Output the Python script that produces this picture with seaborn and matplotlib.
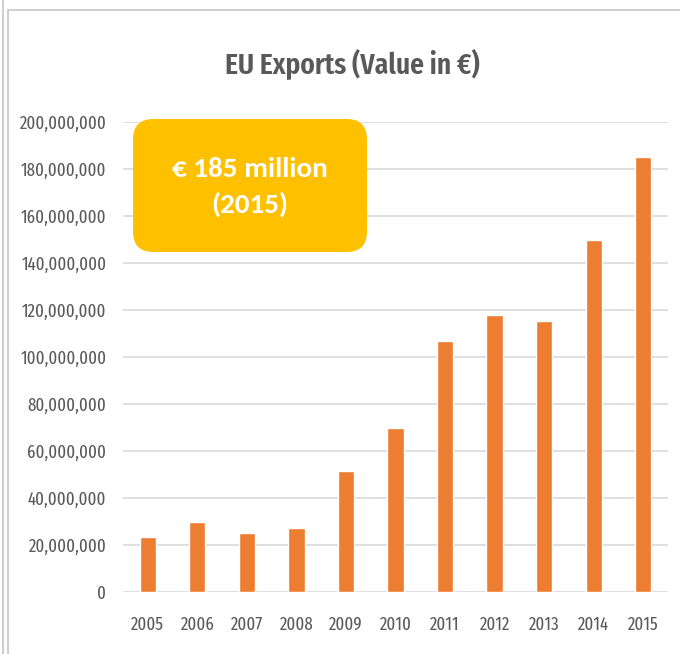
import matplotlib
matplotlib.use("Agg")
import matplotlib.pyplot as plt
from matplotlib.patches import FancyBboxPatch
from matplotlib.lines import Line2D
from matplotlib.ticker import FuncFormatter
import seaborn as sns
import pandas as pd

years = ["2005", "2006", "2007", "2008", "2009", "2010", "2011", "2012", "2013", "2014", "2015"]
exports = [23.5e6, 29.7e6, 24.9e6, 27.3e6, 51.3e6, 70.0e6, 106.7e6, 117.8e6, 115.4e6, 149.6e6, 185.0e6]
y_ticks = [0, 20e6, 40e6, 60e6, 80e6, 100e6, 120e6, 140e6, 160e6, 180e6, 200e6]
title = "EU Exports (Value in €)"
callout = "€ 185 million\n(2015)"

sns.set_theme(style="white")
COND = ['Fira Sans Extra Condensed', 'DejaVu Sans']
plt.rcParams['font.family'] = COND

df = pd.DataFrame({"year": years, "value": exports})

fig = plt.figure(figsize=(6.8, 6.54), dpi=100)
ax = fig.add_axes([123/680, 1-592/654, (668-123)/680, (592-122)/654])

sns.barplot(data=df, x="year", y="value", color="#ED7D31", width=0.33,
            saturation=1, ax=ax, zorder=3)

ax.set_ylim(0, 200e6)
ax.set_yticks(y_ticks)
ax.yaxis.set_major_formatter(FuncFormatter(lambda v, p: f"{int(v):,}"))
ax.grid(axis="y", color="#d9d9d9", linewidth=1.2, zorder=0)
ax.grid(axis="x", visible=False)
for s in ax.spines.values():
    s.set_visible(False)
ax.tick_params(axis="both", length=0, labelsize=13.2, colors="#595959")
ax.tick_params(axis="y", pad=12)
ax.tick_params(axis="x", pad=17)
ax.set_xlabel("")
ax.set_ylabel("")

fig.text(352/680, 1-64/654, title, ha="center", va="center",
         fontsize=21.5, color="#595959", fontweight="semibold")

# callout box
bx0, by0, bx1, by1 = 133/680, 1-252/654, 367/680, 1-119/654
box = FancyBboxPatch((bx0, by0), bx1-bx0, by1-by0,
                     boxstyle="round,pad=0,rounding_size=0.03",
                     transform=fig.transFigure, facecolor="#FFC000",
                     edgecolor="none", zorder=5, mutation_aspect=680/654)
fig.add_artist(box)
fig.text((bx0+bx1)/2, 1-187/654, callout, ha="center", va="center",
         fontsize=21, color="white", fontweight="bold", linespacing=1.5,
         family=['Carlito', 'DejaVu Sans'], zorder=6)

# frame lines
fig.add_artist(Line2D([3/680, 3/680], [0, 1], transform=fig.transFigure,
                      color="#d0d0d0", lw=1.5))
fig.add_artist(Line2D([8/680, 8/680], [0, 1-10/654], transform=fig.transFigure,
                      color="#d0d0d0", lw=1.5))
fig.add_artist(Line2D([8/680, 1], [1-10/654, 1-10/654], transform=fig.transFigure,
                      color="#d0d0d0", lw=1.5))

fig.savefig("out.png", dpi=100)
